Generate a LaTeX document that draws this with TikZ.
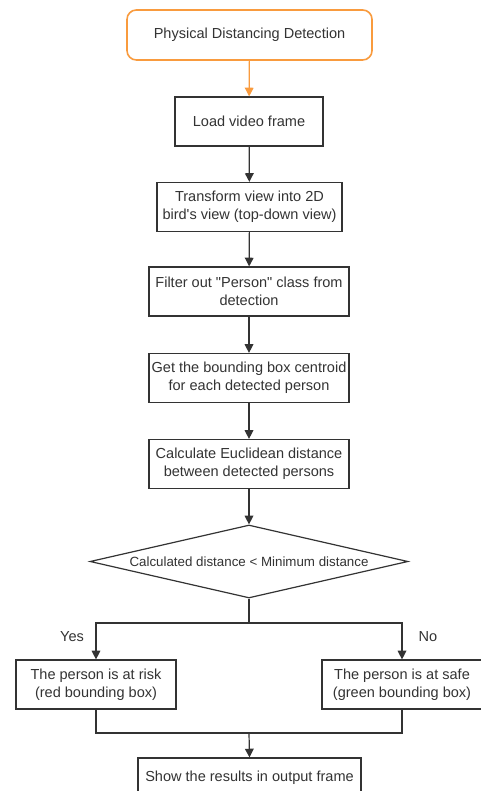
\documentclass[tikz,border=0pt]{standalone}
\usepackage{fontspec}
\setmainfont{Liberation Sans}
\usepackage{xcolor}
\usetikzlibrary{arrows.meta, positioning, shapes.geometric}
\definecolor{ink}{HTML}{333333}
\definecolor{flow}{HTML}{F99B3E}

\begin{document}
\begin{tikzpicture}[x=0.75pt, y=-0.75pt,
    font=\fontsize{10.9}{13.2}\selectfont, text=ink,
    box/.style={draw=ink, line width=0.9pt, fill=white, align=center,
                minimum height=36.75pt, inner sep=1pt},
    start/.style={box, draw=flow, line width=1.2pt, rounded corners=7pt,
                  minimum width=183.75pt, minimum height=37.5pt},
    test/.style={diamond, draw=ink, line width=0.9pt, aspect=4.36, inner sep=0pt,
                 minimum width=238.5pt, minimum height=54.75pt,
                 font=\fontsize{10}{12}\selectfont},
    arr/.style={-{Triangle[length=6.5pt, width=6.5pt]}, draw=ink, line width=0.9pt},
    oarr/.style={arr, draw=flow, fill=flow}]
    \clip (0,0) rectangle (481,791);
    \fill[white] (0,0) rectangle (481,791);
    \node[start] (pdd) at (249.5,35) {Physical Distancing Detection};
    \node[box, minimum width=111pt]    (load) at (249,121.5) {Load video frame};
    \node[box, minimum width=138.75pt] (view) at (249.5,207) {Transform view into 2D\\bird\textquotesingle s view (top-down view)};
    \node[box, minimum width=150pt]    (filt) at (249,291.5) {Filter out \textquotedbl Person\textquotedbl{} class from\\detection};
    \node[box, minimum width=150pt]    (cent) at (249,378) {Get the bounding box centroid\\for each detected person};
    \node[box, minimum width=150pt]    (eucl) at (249,464) {Calculate Euclidean distance\\between detected persons};
    \node[test] (cmp) at (249,561.5) {Calculated distance < Minimum distance};
    \coordinate (split) at (249,623);
    \node[box, minimum width=120pt] (risk) at (96,684.5) {The person is at risk\\(red bounding box)};
    \node[box, minimum width=120pt] (safe) at (402,684.5) {The person is at safe\\(green bounding box)};
    \coordinate (join) at (249,733);
    \node[box, minimum width=167.25pt, minimum height=30pt] (show) at (249.5,778) {Show the results in output frame};
    \node (yes) at (72,637) {Yes};
    \node (no)  at (428,637) {No};
    \draw[oarr] (pdd) -- (load);
    \draw[arr] (load) -- (view);
    \draw[arr] (view) -- (filt);
    \draw[arr] (filt) -- (cent);
    \draw[arr] (cent) -- (eucl);
    \draw[arr] (eucl) -- (cmp);
    \draw[arr] (cmp.south) -- (split) -| (risk.north);
    \draw[arr] (split) -| (safe.north);
    \draw[draw=ink, line width=0.9pt] (risk.south) |- (join);
    \draw[draw=ink, line width=0.9pt] (safe.south) |- (join);
    \draw[arr] (join) -- (show.north);
  \end{tikzpicture}
\end{document}
